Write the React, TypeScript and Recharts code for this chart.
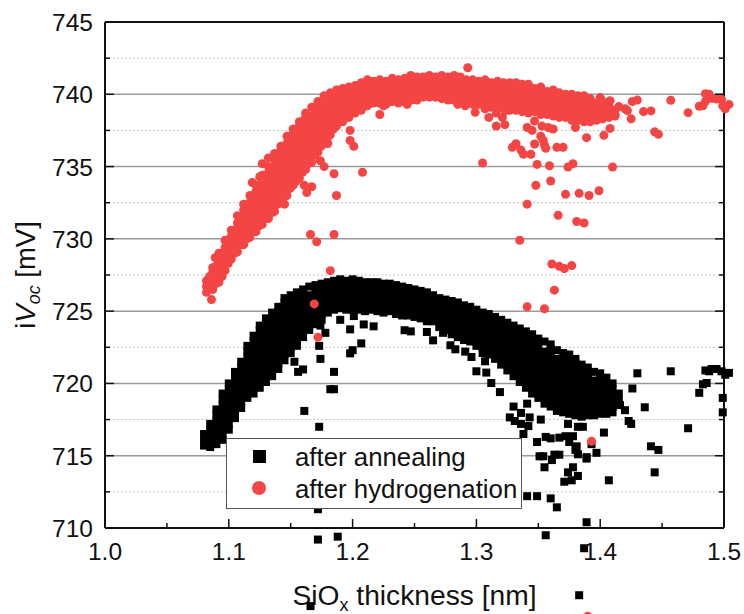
import {
  ScatterChart,
  Scatter,
  CartesianGrid,
  XAxis,
  YAxis,
  ZAxis,
  Legend,
} from "recharts";

const xMajor = [1.0, 1.1, 1.2, 1.3, 1.4, 1.5];
const xTicks = [1.0, 1.05, 1.1, 1.15, 1.2, 1.25, 1.3, 1.35, 1.4, 1.45, 1.5];
const yMajor = [710, 715, 720, 725, 730, 735, 740, 745];
const yMinor = [712.5, 717.5, 722.5, 727.5, 732.5, 737.5, 742.5];
const yTicks = [...yMajor, ...yMinor].sort((a, b) => a - b);

// dense band, one row per thickness: [x, y, y, y...]
const annealBand: number[][] = [
  [1.08, 715.7, 716.1, 716.5],
  [1.085, 715.6, 716, 716.4, 716.8, 717.2],
  [1.09, 715.8, 716.2, 716.6, 717, 717.4, 717.8, 718.2],
  [1.095, 716.1, 716.5, 716.9, 717.3, 717.7, 718.1, 718.5, 718.9, 719.3],
  [1.1, 716.8, 717.2, 717.6, 718, 718.4, 718.8, 719.2, 719.6, 720],
  [1.105, 717.6, 718, 718.4, 718.8, 719.2, 719.6, 720, 720.4, 720.8],
  [1.11, 718.3, 718.7, 719.1, 719.5, 719.9, 720.3, 720.7, 721.1, 721.5],
  [1.115, 719, 719.4, 719.8, 720.2, 720.6, 721, 721.4, 721.8, 722.2, 722.6],
  [1.12, 719.3, 719.7, 720.1, 720.5, 720.9, 721.3, 721.7, 722.1, 722.5, 722.9, 723.3],
  [1.125, 719.7, 720.1, 720.5, 720.9, 721.3, 721.7, 722.1, 722.5, 722.9, 723.3, 723.7, 724],
  [1.13, 720.1, 720.5, 720.9, 721.3, 721.7, 722.1, 722.5, 722.9, 723.3, 723.7, 724.1, 724.5],
  [1.135, 720.5, 720.9, 721.3, 721.7, 722.1, 722.5, 722.9, 723.3, 723.7, 724.1, 724.5, 724.9],
  [1.14, 721, 721.4, 721.8, 722.2, 722.6, 723, 723.4, 723.8, 724.2, 724.6, 725, 725.3],
  [1.145, 721.6, 722, 722.4, 722.8, 723.2, 723.6, 724, 724.4, 724.8, 725.2, 725.6, 725.9],
  [1.15, 722.1, 722.5, 722.9, 723.3, 723.7, 724.1, 724.5, 724.9, 725.3, 725.7, 726.1],
  [1.155, 722.6, 723, 723.4, 723.8, 724.2, 724.6, 725, 725.4, 725.8, 726.3],
  [1.16, 723.2, 723.6, 724, 724.4, 724.8, 725.2, 725.6, 726, 726.5],
  [1.165, 723.7, 724.1, 724.5, 724.9, 725.3, 725.7, 726.1, 726.7],
  [1.17, 724.1, 724.5, 724.9, 725.3, 725.7, 726.1, 726.5, 726.8],
  [1.175, 724.4, 724.8, 725.2, 725.6, 726, 726.4, 726.9],
  [1.18, 724.9, 725.3, 725.7, 726.1, 726.5, 727],
  [1.185, 725.1, 725.5, 725.9, 726.3, 726.7, 727.1],
  [1.19, 725.2, 725.6, 726, 726.4, 726.8, 727.2],
  [1.195, 725.1, 725.5, 725.9, 726.3, 726.7, 727.1],
  [1.2, 725.2, 725.6, 726, 726.4, 726.8, 727.2],
  [1.205, 725.1, 725.5, 725.9, 726.3, 726.7, 727.1],
  [1.21, 725, 725.4, 725.8, 726.2, 726.6, 727],
  [1.215, 725.1, 725.5, 725.9, 726.3, 726.7, 727],
  [1.22, 725, 725.4, 725.8, 726.2, 726.6, 727],
  [1.225, 724.9, 725.3, 725.7, 726.1, 726.5, 726.9],
  [1.23, 725, 725.4, 725.8, 726.2, 726.6, 726.9],
  [1.235, 724.8, 725.2, 725.6, 726, 726.4, 726.8],
  [1.24, 724.7, 725.1, 725.5, 725.9, 726.3, 726.7],
  [1.245, 724.7, 725.1, 725.5, 725.9, 726.3, 726.6],
  [1.25, 724.6, 725, 725.4, 725.8, 726.2, 726.5],
  [1.255, 724.5, 724.9, 725.3, 725.7, 726.1, 726.4],
  [1.26, 724.3, 724.7, 725.1, 725.5, 725.9, 726.3],
  [1.265, 724.3, 724.7, 725.1, 725.5, 725.9, 726.1],
  [1.27, 723.9, 724.3, 724.7, 725.1, 725.5, 725.9],
  [1.275, 723.7, 724.1, 724.5, 724.9, 725.3, 725.8],
  [1.28, 723.4, 723.8, 724.2, 724.6, 725, 725.4, 725.7],
  [1.285, 723.2, 723.6, 724, 724.4, 724.8, 725.2, 725.6],
  [1.29, 723, 723.4, 723.8, 724.2, 724.6, 725, 725.4],
  [1.295, 722.9, 723.3, 723.7, 724.1, 724.5, 724.9, 725.3],
  [1.3, 722.6, 723, 723.4, 723.8, 724.2, 724.6, 725.1],
  [1.305, 722.1, 722.5, 722.9, 723.3, 723.7, 724.1, 724.5, 724.9],
  [1.31, 722, 722.4, 722.8, 723.2, 723.6, 724, 724.4, 724.8],
  [1.315, 721.7, 722.1, 722.5, 722.9, 723.3, 723.7, 724.1, 724.6],
  [1.32, 721.3, 721.7, 722.1, 722.5, 722.9, 723.3, 723.7, 724.1, 724.4],
  [1.325, 720.9, 721.3, 721.7, 722.1, 722.5, 722.9, 723.3, 723.7, 724.2],
  [1.33, 720.5, 720.9, 721.3, 721.7, 722.1, 722.5, 722.9, 723.3, 723.7, 724],
  [1.335, 720.1, 720.5, 720.9, 721.3, 721.7, 722.1, 722.5, 722.9, 723.3, 723.8],
  [1.34, 719.7, 720.1, 720.5, 720.9, 721.3, 721.7, 722.1, 722.5, 722.9, 723.3, 723.6],
  [1.345, 719.3, 719.7, 720.1, 720.5, 720.9, 721.3, 721.7, 722.1, 722.5, 722.9, 723.4],
  [1.35, 719, 719.4, 719.8, 720.2, 720.6, 721, 721.4, 721.8, 722.2, 722.6, 723.1],
  [1.355, 718.6, 719, 719.4, 719.8, 720.2, 720.6, 721, 721.4, 721.8, 722.2, 722.9],
  [1.36, 718.4, 718.8, 719.2, 719.6, 720, 720.4, 720.8, 721.2, 721.6, 722, 722.4, 722.7],
  [1.365, 718.1, 718.5, 718.9, 719.3, 719.7, 720.1, 720.5, 720.9, 721.3, 721.7, 722.3],
  [1.37, 718, 718.4, 718.8, 719.2, 719.6, 720, 720.4, 720.8, 721.2, 721.6, 722.1],
  [1.375, 717.9, 718.3, 718.7, 719.1, 719.5, 719.9, 720.3, 720.7, 721.1, 721.5, 722],
  [1.38, 717.8, 718.2, 718.6, 719, 719.4, 719.8, 720.2, 720.6, 721, 721.4, 721.7],
  [1.385, 717.7, 718.1, 718.5, 718.9, 719.3, 719.7, 720.1, 720.5, 720.9, 721.3],
  [1.39, 717.8, 718.2, 718.6, 719, 719.4, 719.8, 720.2, 720.6, 721.1],
  [1.395, 717.8, 718.2, 718.6, 719, 719.4, 719.8, 720.2, 720.8],
  [1.4, 717.9, 718.3, 718.7, 719.1, 719.5, 719.9, 720.3, 720.7],
  [1.405, 717.9, 718.3, 718.7, 719.1, 719.5, 719.9, 720.4],
  [1.41, 718, 718.4, 718.8, 719.2, 719.6, 720],
  [1.415, 718.6, 718.9, 719.3],
];

// isolated points below and around the band
const annealOutliers: number[][] = [
  [1.356, 709.5], [1.389, 710.4], [1.387, 708.6], [1.383, 705.35], [1.365, 711.43],
  [1.36, 712.05], [1.341, 712.2], [1.349, 712.2], [1.407, 713.3], [1.371, 713.2],
  [1.377, 713.3], [1.382, 713.6], [1.374, 713.85], [1.378, 714.2], [1.355, 714.2],
  [1.444, 713.85], [1.361, 714.7], [1.351, 714.96], [1.354, 714.96], [1.363, 715.07],
  [1.367, 715.07], [1.382, 715.1], [1.38, 715.4], [1.389, 714.9], [1.389, 714.8],
  [1.397, 715.2], [1.441, 715.65], [1.447, 715.4], [1.393, 715.8], [1.381, 715.65],
  [1.349, 715.95], [1.375, 715.95], [1.356, 716.3], [1.36, 716.2], [1.367, 716.25],
  [1.372, 716.35], [1.378, 716.35], [1.338, 716.5], [1.403, 716.6], [1.471, 716.9],
  [1.374, 717.2], [1.342, 717.05], [1.336, 717.2], [1.331, 717.4], [1.327, 717.65],
  [1.343, 717.65], [1.352, 717.5], [1.382, 717], [1.386, 717], [1.423, 717.4],
  [1.425, 717.2], [1.499, 718], [1.499, 719], [1.436, 718.35], [1.42, 718.15],
  [1.416, 718.5], [1.48, 719.35], [1.426, 719.65], [1.43, 720.7], [1.457, 720.84],
  [1.483, 719.94], [1.486, 720.03], [1.485, 720.9], [1.488, 720.84], [1.49, 721],
  [1.494, 721], [1.498, 720.84], [1.501, 720.6], [1.504, 720.73], [1.336, 717.96],
  [1.33, 718.4], [1.341, 718.6], [1.319, 719.4], [1.312, 720.03], [1.3, 720.84],
  [1.308, 720.75], [1.296, 721.83], [1.291, 722.2], [1.307, 721.53], [1.283, 722.36],
  [1.279, 722.64], [1.265, 722.98], [1.242, 723.68], [1.247, 723.6], [1.26, 723.56],
  [1.217, 723.95], [1.172, 709.2], [1.188, 709.4], [1.166, 704.6], [1.172, 711.3],
  [1.173, 717], [1.161, 718.1], [1.182, 719.6], [1.185, 719.6], [1.185, 720.8],
  [1.174, 721.7], [1.173, 722.6], [1.156, 720.8], [1.16, 720.97], [1.153, 721.5],
  [1.178, 723.5], [1.174, 724], [1.19, 724.4], [1.201, 724.66], [1.198, 723.74],
  [1.209, 724.08], [1.207, 722.77], [1.2, 722.3], [1.198, 722.08], [1.273, 723.5],
];

const hydroBand: number[][] = [
  [1.082, 726.3, 726.7, 727.1],
  [1.087, 726.5, 726.9, 727.3, 727.7, 728],
  [1.092, 727, 727.4, 727.8, 728.2, 728.6, 729],
  [1.097, 727.8, 728.2, 728.6, 729, 729.4, 729.9],
  [1.102, 728.6, 729, 729.4, 729.8, 730.2, 730.6],
  [1.107, 729.1, 729.5, 729.9, 730.3, 730.7, 731.1, 731.6],
  [1.112, 729.6, 730, 730.4, 730.8, 731.2, 731.6, 732, 732.4],
  [1.117, 730.1, 730.5, 730.9, 731.3, 731.7, 732.1, 732.5, 733],
  [1.122, 730.5, 730.9, 731.3, 731.7, 732.1, 732.5, 732.9, 733.3, 733.7],
  [1.127, 731, 731.4, 731.8, 732.2, 732.6, 733, 733.4, 733.8, 734.4],
  [1.132, 731.4, 731.8, 732.2, 732.6, 733, 733.4, 733.8, 734.2, 734.6, 735],
  [1.137, 731.9, 732.3, 732.7, 733.1, 733.5, 733.9, 734.3, 734.7, 735.1, 735.5, 735.9],
  [1.142, 732.5, 732.9, 733.3, 733.7, 734.1, 734.5, 734.9, 735.3, 735.7, 736.1, 736.4],
  [1.147, 733, 733.4, 733.8, 734.2, 734.6, 735, 735.4, 735.8, 736.2, 736.6, 737.1],
  [1.152, 733.7, 734.1, 734.5, 734.9, 735.3, 735.7, 736.1, 736.5, 736.9, 737.3, 737.6],
  [1.157, 734.2, 734.6, 735, 735.4, 735.8, 736.2, 736.6, 737, 737.4, 737.8, 738.1],
  [1.162, 734.8, 735.2, 735.6, 736, 736.4, 736.8, 737.2, 737.6, 738, 738.4, 738.7],
  [1.167, 735.3, 735.7, 736.1, 736.5, 736.9, 737.3, 737.7, 738.1, 738.5, 739.1],
  [1.172, 736, 736.4, 736.8, 737.2, 737.6, 738, 738.4, 738.8, 739.2, 739.5],
  [1.177, 736.6, 737, 737.4, 737.8, 738.2, 738.6, 739, 739.4, 739.9],
  [1.182, 737.2, 737.6, 738, 738.4, 738.8, 739.2, 739.6, 740.1],
  [1.187, 737.8, 738.2, 738.6, 739, 739.4, 739.8, 740.3],
  [1.192, 738.1, 738.5, 738.9, 739.3, 739.7, 740.1, 740.4],
  [1.197, 738.4, 738.8, 739.2, 739.6, 740, 740.5],
  [1.202, 738.7, 739.1, 739.5, 739.9, 740.3, 740.6],
  [1.207, 738.9, 739.3, 739.7, 740.1, 740.5, 740.8],
  [1.212, 739.2, 739.6, 740, 740.4, 741],
  [1.217, 739.4, 739.8, 740.2, 740.6, 740.9],
  [1.222, 739.4, 739.8, 740.2, 740.6, 741],
  [1.227, 739.3, 739.7, 740.1, 740.5, 740.9],
  [1.232, 739.5, 739.9, 740.3, 740.7, 741.1],
  [1.237, 739.4, 739.8, 740.2, 740.6, 741],
  [1.242, 739.5, 739.9, 740.3, 740.7, 741.1],
  [1.247, 739.6, 740, 740.4, 740.8, 741.3],
  [1.252, 739.6, 740, 740.4, 740.8, 741.2],
  [1.257, 739.8, 740.2, 740.6, 741, 741.2],
  [1.262, 739.8, 740.2, 740.6, 741, 741.3],
  [1.267, 739.8, 740.2, 740.6, 741, 741.2],
  [1.272, 739.7, 740.1, 740.5, 740.9, 741.3],
  [1.277, 739.6, 740, 740.4, 740.8, 741.2],
  [1.282, 739.6, 740, 740.4, 740.8, 741.3],
  [1.287, 739.5, 739.9, 740.3, 740.7, 741.2],
  [1.292, 739.4, 739.8, 740.2, 740.6, 741],
  [1.297, 739.3, 739.7, 740.1, 740.5, 741],
  [1.302, 739.3, 739.7, 740.1, 740.5, 740.9],
  [1.307, 739.2, 739.6, 740, 740.4, 741],
  [1.312, 739.1, 739.5, 739.9, 740.3, 740.8],
  [1.317, 739.1, 739.5, 739.9, 740.3, 740.9],
  [1.322, 739, 739.4, 739.8, 740.2, 740.8],
  [1.327, 738.9, 739.3, 739.7, 740.1, 740.8],
  [1.332, 738.9, 739.3, 739.7, 740.1, 740.8],
  [1.337, 738.8, 739.2, 739.6, 740, 740.7],
  [1.342, 738.7, 739.1, 739.5, 739.9, 740.7],
  [1.347, 738.8, 739.2, 739.6, 740, 740.4],
  [1.352, 738.6, 739, 739.4, 739.8, 740.5],
  [1.357, 738.6, 739, 739.4, 739.8, 740.2],
  [1.362, 738.5, 738.9, 739.3, 739.7, 740.3],
  [1.367, 738.4, 738.8, 739.2, 739.6, 740.1],
  [1.372, 738.4, 738.8, 739.2, 739.6, 740],
  [1.377, 738.2, 738.6, 739, 739.4, 740],
  [1.382, 738.2, 738.6, 739, 739.4, 739.9],
  [1.387, 738.1, 738.5, 738.9, 739.3, 739.9],
  [1.392, 738.1, 738.5, 738.9, 739.3, 739.7],
  [1.397, 738.2, 738.6, 739, 739.4],
  [1.402, 738.3, 738.7, 739.1, 739.5],
  [1.407, 738.4, 738.8, 739.2],
  [1.412, 738.5, 738.9],
];

// second pass through the red band, it is solid colour in the picture
const hydroCore: number[][] = [
  [1.0845, 726.6, 727, 727.4],
  [1.0895, 726.9, 727.3, 727.7, 728.1],
  [1.0945, 727.4, 727.8, 728.2, 728.6, 729],
  [1.0995, 728.3, 728.7, 729.1, 729.5],
  [1.1045, 729, 729.4, 729.8, 730.2, 730.6],
  [1.1095, 729.6, 730, 730.4, 730.8, 731.2],
  [1.1145, 730, 730.4, 730.8, 731.2, 731.6, 732],
  [1.1195, 730.5, 730.9, 731.3, 731.7, 732.1, 732.5, 732.9],
  [1.1245, 730.9, 731.3, 731.7, 732.1, 732.5, 732.9, 733.3, 733.7],
  [1.1295, 731.4, 731.8, 732.2, 732.6, 733, 733.4, 733.8, 734.2],
  [1.1345, 731.8, 732.2, 732.6, 733, 733.4, 733.8, 734.2, 734.6],
  [1.1395, 732.4, 732.8, 733.2, 733.6, 734, 734.4, 734.8, 735.2, 735.6],
  [1.1445, 732.9, 733.3, 733.7, 734.1, 734.5, 734.9, 735.3, 735.7, 736.2],
  [1.1495, 733.5, 733.9, 734.3, 734.7, 735.1, 735.5, 735.9, 736.3, 736.7],
  [1.1545, 734, 734.4, 734.8, 735.2, 735.6, 736, 736.4, 736.8, 737.2],
  [1.1595, 734.6, 735, 735.4, 735.8, 736.2, 736.6, 737, 737.4, 737.8],
  [1.1645, 735.2, 735.6, 736, 736.4, 736.8, 737.2, 737.6, 738, 738.4],
  [1.1695, 735.8, 736.2, 736.6, 737, 737.4, 737.8, 738.2, 738.6, 738.9],
  [1.1745, 736.4, 736.8, 737.2, 737.6, 738, 738.4, 738.8, 739.2],
  [1.1795, 737, 737.4, 737.8, 738.2, 738.6, 739, 739.4],
  [1.1845, 737.6, 738, 738.4, 738.8, 739.2, 739.8],
  [1.1895, 738.2, 738.6, 739, 739.4, 740],
  [1.1945, 738.4, 738.8, 739.2, 739.6, 740.2],
  [1.1995, 738.7, 739.1, 739.5, 739.9, 740.2],
  [1.2045, 739, 739.4, 739.8, 740.2, 740.5],
  [1.2095, 739.2, 739.6, 740, 740.6],
  [1.2145, 739.4, 739.8, 740.2, 740.6],
  [1.2195, 739.6, 740, 740.4, 740.8],
  [1.2245, 739.5, 739.9, 740.3, 740.7],
  [1.2295, 739.5, 739.9, 740.3, 740.7],
  [1.2345, 739.6, 740, 740.4, 740.8],
  [1.2395, 739.6, 740, 740.4, 740.8],
  [1.2445, 739.7, 740.1, 740.5, 740.9],
  [1.2495, 739.8, 740.2, 740.6, 741],
  [1.2545, 739.9, 740.3, 740.7, 741.1],
  [1.2595, 740, 740.4, 740.8, 741.1],
  [1.2645, 740, 740.4, 740.8, 741.1],
  [1.2695, 739.9, 740.3, 740.7, 741.1],
  [1.2745, 739.8, 740.2, 740.6, 741],
  [1.2795, 739.8, 740.2, 740.6, 741],
  [1.2845, 739.7, 740.1, 740.5, 740.9],
  [1.2895, 739.6, 740, 740.4, 740.8],
  [1.2945, 739.5, 739.9, 740.3, 740.7],
  [1.2995, 739.5, 739.9, 740.3, 740.7],
  [1.3045, 739.4, 739.8, 740.2, 740.6],
  [1.3095, 739.3, 739.7, 740.1, 740.6],
  [1.3145, 739.3, 739.7, 740.1, 740.5],
  [1.3195, 739.2, 739.6, 740, 740.5],
  [1.3245, 739.1, 739.5, 739.9, 740.4],
  [1.3295, 739.1, 739.5, 739.9, 740.4],
  [1.3345, 739, 739.4, 739.8, 740.4],
  [1.3395, 739, 739.4, 739.8, 740.3],
  [1.3445, 739.3, 739.7, 740.2],
  [1.3495, 739.3, 739.7, 740.2],
  [1.3545, 739.2, 739.6, 740.1],
  [1.3595, 739.2, 739.6, 740],
  [1.3645, 739.1, 739.5, 739.9],
  [1.3695, 739, 739.4, 739.8],
  [1.3745, 739, 739.4, 739.8],
  [1.3795, 738.8, 739.2, 739.7],
  [1.3845, 738.8, 739.2, 739.6],
  [1.3895, 738.7, 739.1, 739.5],
  [1.3945, 738.8, 739.2],
  [1.3995, 738.9, 739.3],
];

const hydroOutliers: number[][] = [
  [1.086, 725.8], [1.089, 728.7], [1.198, 737.5], [1.198, 736.8], [1.201, 736.4],
  [1.18, 736.6], [1.174, 735.4], [1.177, 735], [1.185, 734.5], [1.208, 734.6],
  [1.161, 733.7], [1.163, 733.2], [1.167, 733.6], [1.187, 733], [1.166, 730.3],
  [1.171, 729.8], [1.185, 730.3], [1.182, 727.8], [1.169, 725.5], [1.172, 723.2],
  [1.127, 735.2], [1.132, 735.6], [1.125, 734.3], [1.119, 733.9], [1.145, 732.4],
  [1.293, 741.84], [1.222, 738.6], [1.305, 735.25], [1.329, 736.33], [1.332, 736.58],
  [1.336, 736.15], [1.338, 735.85], [1.344, 735.85], [1.347, 736.56], [1.349, 735.15],
  [1.359, 735.06], [1.36, 734], [1.348, 733.7], [1.372, 733.08], [1.383, 733.15],
  [1.391, 733], [1.399, 733.33], [1.341, 732.4], [1.366, 731.63], [1.381, 731.2],
  [1.387, 731.1], [1.335, 729.9], [1.361, 728.26], [1.367, 728.1], [1.371, 727.94],
  [1.377, 728.15], [1.363, 726.45], [1.341, 725.3], [1.355, 725.17], [1.374, 734.97],
  [1.378, 735.2], [1.41, 734.97], [1.365, 736.33], [1.37, 736.33], [1.356, 736.26],
  [1.355, 736.5], [1.352, 737.1], [1.354, 736.8], [1.389, 737], [1.403, 737.16],
  [1.408, 737.64], [1.341, 737.7], [1.345, 737.5], [1.316, 737.8], [1.323, 737.9],
  [1.347, 738.15], [1.353, 737.8], [1.358, 737.7], [1.362, 737.6], [1.38, 737.7],
  [1.31, 738.4], [1.321, 738.4], [1.299, 738.75], [1.307, 739], [1.316, 738.7],
  [1.324, 738.87], [1.291, 739.2], [1.285, 739.3], [1.244, 739.3], [1.225, 739.2],
  [1.425, 738.3], [1.435, 738.8], [1.441, 738.85], [1.444, 737.4], [1.447, 737.23],
  [1.457, 739.58], [1.471, 738.73], [1.48, 739.17], [1.483, 739.2], [1.485, 739.5],
  [1.485, 740.04], [1.488, 740], [1.49, 739.72], [1.494, 739.67], [1.498, 739.65],
  [1.499, 739.2], [1.501, 739], [1.504, 739.3], [1.426, 739.5], [1.43, 739.6],
  [1.422, 738.87], [1.42, 739], [1.415, 739.15], [1.412, 738.57], [1.408, 739.56],
  [1.4, 739.77], [1.393, 716], [1.39, 703.9],
];

const toPoints = (bands: number[][][], outliers: number[][]) => [
  ...bands.flat().flatMap(([x, ...ys]) => ys.map((y) => ({ x, y }))),
  ...outliers.map(([x, y]) => ({ x, y })),
];

const annealData = toPoints([annealBand], annealOutliers);
const hydroData = toPoints([hydroBand, hydroCore], hydroOutliers);

const font = "'Liberation Sans', Arial, sans-serif";
const red = "#f44545";
const ink = "#111";

const BottomTick = ({ x, y, payload }: any) => {
  const major = xMajor.includes(payload.value);
  return (
    <g>
      <line x1={x} x2={x} y1={y} y2={y - (major ? 9 : 5)} stroke="#111" strokeWidth={1.5} />
      {major && (
        <text x={x} y={y + 32} textAnchor="middle" fontSize={24.5} fontFamily={font} fill={ink}>
          {payload.value.toFixed(1)}
        </text>
      )}
    </g>
  );
};

const TopTick = ({ x, y, payload }: any) => {
  const major = xMajor.includes(payload.value);
  return <line x1={x} x2={x} y1={y} y2={y + (major ? 9 : 5)} stroke="#111" strokeWidth={1.5} />;
};

const LeftTick = ({ x, y, payload }: any) => {
  const major = yMajor.includes(payload.value);
  return (
    <g>
      <line x1={x} x2={x + (major ? 9 : 5)} y1={y} y2={y} stroke="#111" strokeWidth={1.5} />
      {major && (
        <text x={x - 12} y={y + 9} textAnchor="end" fontSize={24.5} fontFamily={font} fill={ink}>
          {payload.value}
        </text>
      )}
    </g>
  );
};

const RightTick = ({ x, y, payload }: any) => {
  const major = yMajor.includes(payload.value);
  return <line x1={x} x2={x - (major ? 9 : 5)} y1={y} y2={y} stroke="#111" strokeWidth={1.5} />;
};

const XTitle = ({ viewBox }: any) => (
  <text
    x={viewBox.x + viewBox.width / 2}
    y={605}
    textAnchor="middle"
    fontSize={28.2}
    fontFamily={font}
    fill={ink}
  >
    SiO
    <tspan fontSize={18} dy={6}>x</tspan>
    <tspan dy={-6}> thickness [nm]</tspan>
  </text>
);

const YTitle = ({ viewBox }: any) => {
  const cy = viewBox.y + viewBox.height / 2;
  return (
    <text
      transform={`translate(35 ${cy}) rotate(-90)`}
      textAnchor="middle"
      fontSize={27.5}
      fontFamily={font}
      fill={ink}
    >
      i<tspan fontStyle="italic">V</tspan>
      <tspan fontStyle="italic" fontSize={18} dy={5}>oc</tspan>
      <tspan dy={-5}> [mV]</tspan>
    </text>
  );
};

const LegendBox = () => (
  <div
    style={{
      boxSizing: "border-box",
      width: 296,
      height: 71,
      border: "1.5px solid #555",
      background: "#fff",
      fontFamily: font,
      fontSize: 25.8,
      color: ink,
      position: "relative",
    }}
  >
    <div style={{ position: "absolute", left: 26, top: 11, width: 13, height: 13, background: "#000" }} />
    <div style={{ position: "absolute", left: 68, top: 2, lineHeight: "32px" }}>after annealing</div>
    <div style={{ position: "absolute", left: 25, top: 42, width: 14, height: 14, borderRadius: 7, background: red }} />
    <div style={{ position: "absolute", left: 68, top: 34, lineHeight: "32px" }}>after hydrogenation</div>
  </div>
);

export default function App() {
  return (
    <div style={{ position: "absolute", left: 0, top: 0 }}>
      {/* stray points fall below the axis in the original, so no clipping */}
      <style>{`.recharts-scatter { clip-path: none; } .recharts-surface { overflow: visible; }`}</style>
      <ScatterChart width={744} height={614} margin={{ top: 0, right: 0, bottom: 0, left: 0 }}>
        <CartesianGrid
          vertical={false}
          horizontalValues={yMinor}
          stroke="#c4c4c4"
          strokeWidth={1}
          strokeDasharray="2 2"
        />
        <CartesianGrid vertical={false} horizontalValues={yMajor} stroke="#9a9a9a" strokeWidth={1.5} />
        <XAxis
          type="number"
          dataKey="x"
          domain={[1, 1.5]}
          allowDataOverflow
          ticks={xTicks}
          interval={0}
          height={86}
          tickSize={0}
          tickMargin={0}
          tickLine={false}
          tick={<BottomTick />}
          axisLine={{ stroke: "#111", strokeWidth: 2 }}
          label={{ content: <XTitle /> }}
        />
        <XAxis
          xAxisId="top"
          orientation="top"
          type="number"
          domain={[1, 1.5]}
          allowDataOverflow
          ticks={xTicks}
          interval={0}
          height={22}
          tickSize={0}
          tickMargin={0}
          tickLine={false}
          tick={<TopTick />}
          axisLine={{ stroke: "#111", strokeWidth: 2 }}
        />
        <YAxis
          type="number"
          dataKey="y"
          domain={[710, 745]}
          allowDataOverflow
          ticks={yTicks}
          interval={0}
          width={105}
          tickSize={0}
          tickMargin={0}
          tickLine={false}
          tick={<LeftTick />}
          axisLine={{ stroke: "#111", strokeWidth: 2 }}
          label={{ content: <YTitle /> }}
        />
        <YAxis
          yAxisId="right"
          orientation="right"
          type="number"
          domain={[710, 745]}
          allowDataOverflow
          ticks={yTicks}
          interval={0}
          width={20}
          tickSize={0}
          tickMargin={0}
          tickLine={false}
          tick={<RightTick />}
          axisLine={{ stroke: "#111", strokeWidth: 2 }}
        />
        <ZAxis range={[44, 44]} />
        <Scatter
          name="after annealing"
          data={annealData}
          fill="#000"
          shape="square"
          isAnimationActive={false}
        />
        <Scatter
          name="after hydrogenation"
          data={hydroData}
          fill={red}
          shape="circle"
          isAnimationActive={false}
        />
        {/* centred + vertical so the legend takes no room from the plot */}
        <Legend
          layout="vertical"
          align="center"
          verticalAlign="middle"
          content={<LegendBox />}
          wrapperStyle={{ position: "absolute", left: 226, top: 438, width: 296, height: 71 }}
        />
      </ScatterChart>
    </div>
  );
}
